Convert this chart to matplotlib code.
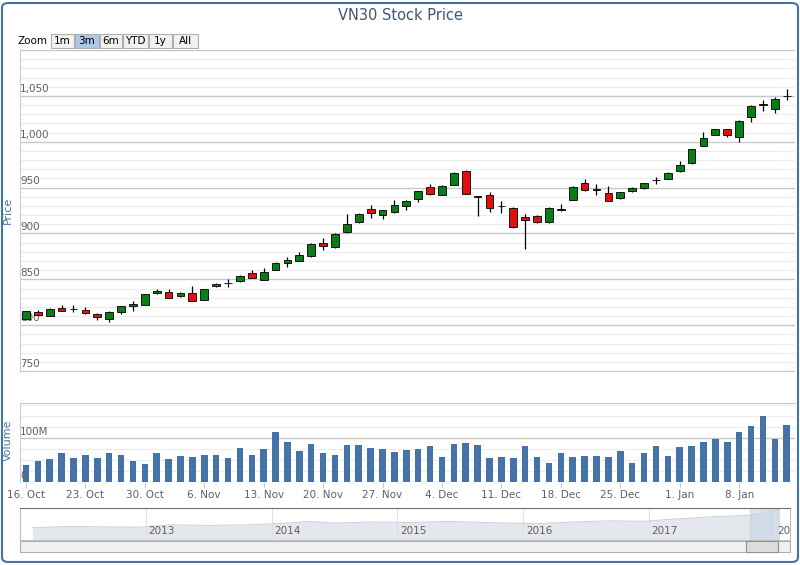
import matplotlib.pyplot as plt
import matplotlib.patches as mpatches
import numpy as np
import pandas as pd

# daily candles, 16 Oct 2017 - 12 Jan 2018
dates = pd.bdate_range('2017-10-16', '2018-01-12')
opens = [807, 814.6, 810, 819, 817.6, 816.5, 811.7, 807.3, 814.3, 820.5, 822.3, 835, 836, 831.5, 835, 827.8,
         842.5, 845.8, 848.4, 857, 849.8, 860.4, 867.8, 870.3, 875, 890, 885, 901.8, 912, 926.4, 920, 923,
         930.4, 937.7, 950.9, 942, 953, 967.7, 940.6, 941.4, 929.6, 928.2, 918.3, 919.4, 912, 926, 937,
         954.9, 947.6, 943.9, 938.8, 945.8, 949.8, 957.8, 959.7, 967.7, 976.5, 995.6, 1007.7, 1013.5,
         1005.5, 1027, 1040.3, 1035.5, 1049.4]
closes = [815, 811.4, 817.6, 815.7, 817.6, 813.2, 809, 814.3, 820.5, 822.7, 834, 837.4, 830, 835, 826.7, 839.6,
          844.7, 845.8, 853.8, 852, 857.9, 867.8, 870.7, 876.9, 889, 886.4, 898.9, 909.9, 921.6, 922, 925.3, 930.8,
          935.5, 945.8, 942.5, 951.6, 965.9, 943.2, 939.5, 928.2, 929.6, 907.3, 914.6, 912.1, 928.2, 926, 950.9,
          946.9, 947.6, 935.9, 945, 949.8, 954.9, 957.8, 965.9, 975, 991.9, 1004, 1013.5, 1007.3,
          1022.7, 1038.8, 1040.3, 1046.1, 1049.4]
highs = [816, 817, 818.5, 822, 822, 820, 813, 815, 821, 826, 834.5, 840, 839, 836, 843, 840,
         846, 850, 855, 860, 862, 868.5, 874, 880, 890, 895, 900, 921, 922.5, 931, 926, 937,
         936.5, 946.5, 954, 952.5, 967, 969, 941, 945, 935, 928.5, 921, 920, 929, 932, 951.5,
         959, 954, 952, 945.5, 950.5, 955.5, 962, 966.5, 979, 992.5, 1011, 1014, 1014,
         1023.5, 1040, 1046, 1049, 1057]
lows = [806, 810.5, 809.5, 815, 814, 812.5, 806, 803, 812, 815, 821.5, 834.5, 829.5, 830.5, 826, 827,
        841.5, 842, 847.5, 851, 849, 860, 863, 869.5, 874.5, 882, 884.5, 901, 911, 917, 916, 922.5,
        926, 934, 942, 941.5, 952.5, 942.5, 919, 923, 922, 906.5, 883, 911, 911.5, 924, 936.5,
        946, 942, 935, 938, 945, 949, 954, 959, 967, 976, 995, 1007, 1005,
        1000, 1021, 1033, 1031, 1045]
volume_m = [38, 48, 52, 65, 55, 61, 55, 65, 62, 48, 42, 67, 53, 59, 57, 61, 61, 55, 77, 61, 75, 113, 91, 71,
            87, 65, 62, 85, 85, 77, 75, 69, 73, 75, 81, 57, 87, 89, 85, 55, 57, 55, 83, 57, 43, 65, 57, 59,
            59, 57, 71, 43, 65, 81, 59, 79, 81, 91, 98, 91, 113, 127, 151, 99, 131]

# navigator overview (rough close per period, 2012-2018)
nav_years = [2012.1, 2012.4, 2012.7, 2012.95, 2013.2, 2013.5, 2013.8, 2014.2, 2014.3, 2014.5, 2014.8, 2015.1,
             2015.4, 2015.7, 2015.9, 2016.1, 2016.4, 2016.7, 2016.95, 2017.2, 2017.5, 2017.8, 2018.03]
nav_close = [420, 470, 450, 440, 520, 500, 520, 600, 640, 580, 620, 600,
             640, 600, 580, 560, 620, 660, 640, 720, 800, 850, 1050]
year_labels = ['2013', '2014', '2015', '2016', '2017', '2018']

W, H = 800, 565
fig = plt.figure(figsize=(8, 5.65), dpi=100)
plt.rcParams['font.family'] = ['DejaVu Sans']


def fx(px):
    return px / W


def fy(py):
    return 1 - py / H


grey = '#606060'
fig.text(0.5, fy(16), 'VN30 Stock Price', ha='center', va='center', fontsize=10.5, color='#3e576f')

# zoom buttons
fig.text(fx(18), fy(41), 'Zoom', ha='left', va='center', fontsize=7.5, color='black')
buttons = [('1m', 51, 74), ('3m', 75, 99), ('6m', 100, 122), ('YTD', 123, 148), ('1y', 149, 172), ('All', 173, 198)]
for label, x0, x1 in buttons:
    col = '#acc8e8' if label == '3m' else '#f2f2f2'
    fig.patches.append(mpatches.Rectangle((fx(x0), fy(48)), fx(x1 - x0), 14 / H, transform=fig.transFigure,
                                          facecolor=col, edgecolor='#b0b0b0', lw=0.8))
    fig.text(fx((x0 + x1) / 2), fy(41), label, ha='center', va='center', fontsize=7.5, color='black')

n = len(dates)
x = np.arange(n)
xl = (-0.5, n - 0.3)

# price pane
ax = fig.add_axes([fx(20), fy(372), fx(775), 322 / H])
ax.set_xlim(*xl)
ax.set_ylim(749, 1100)
for s in ax.spines.values():
    s.set_visible(False)
ax.spines['left'].set_visible(True)
ax.spines['left'].set_color('#c0d0e0')
ax.set_yticks(np.arange(750, 1101, 50))
ax.set_yticks(np.arange(750, 1101, 10), minor=True)
ax.grid(True, which='major', axis='y', color='#c8c8c8', lw=1)
ax.grid(True, which='minor', axis='y', color='#ececec', lw=0.8)
ax.tick_params(axis='both', which='both', length=0, labelleft=False, labelbottom=False)
ax.set_axisbelow(True)
for v in range(750, 1051, 50):
    ax.text(0.0, v + 2, f'{v:,}', transform=ax.get_yaxis_transform(), fontsize=7.5, color=grey,
            ha='left', va='bottom')
for i in range(n):
    o, c = opens[i], closes[i]
    col = '#0a7d18' if c >= o else '#e01010'
    ax.vlines(x[i], lows[i], highs[i], color='black', lw=0.9, zorder=2)
    ax.bar(x[i], max(abs(c - o), 0.6), bottom=min(o, c), width=0.65, color=col, edgecolor='black',
           lw=0.6, zorder=3)
fig.text(fx(8), fy(210), 'Price', rotation=90, ha='center', va='center', fontsize=8, color='#4d759e')

# volume pane
av = fig.add_axes([fx(20), fy(482), fx(775), 79 / H])
av.set_xlim(*xl)
av.set_ylim(0, 180)
for s in av.spines.values():
    s.set_visible(False)
av.spines['left'].set_visible(True)
av.spines['left'].set_color('#c0d0e0')
av.spines['top'].set_visible(True)
av.spines['top'].set_color('#c8c8c8')
av.set_yticks([0, 100])
av.set_yticks(np.arange(0, 180, 25), minor=True)
av.grid(True, which='major', axis='y', color='#c8c8c8', lw=1)
av.grid(True, which='minor', axis='y', color='#ececec', lw=0.8)
av.tick_params(axis='y', which='both', length=0, labelleft=False)
av.set_axisbelow(True)
av.bar(x, volume_m, width=0.55, color='#4572a7', zorder=3)
av.text(0.0, 102, '100M', transform=av.get_yaxis_transform(), fontsize=7.5, color=grey, ha='left', va='bottom')
av.text(0.0, 2, '0', transform=av.get_yaxis_transform(), fontsize=7.5, color=grey, ha='left', va='bottom')
mondays = [i for i, d in enumerate(dates) if d.weekday() == 0]
av.set_xticks(mondays)
av.set_xticklabels([dates[i].strftime('%-d. %b') for i in mondays], fontsize=7.5, color=grey)
av.tick_params(axis='x', length=4, color='#c0d0e0', pad=2)
fig.text(fx(8), fy(440), 'Volume', rotation=90, ha='center', va='center', fontsize=8, color='#4d759e')

# navigator
an = fig.add_axes([fx(20), fy(540), fx(770), 32 / H])
an.set_xlim(2012.0, 2018.12)
an.set_ylim(0, 1100)
an.fill_between(nav_years, nav_close, color='#e4e8ee', lw=0)
an.plot(nav_years, nav_close, color='#d0d4da', lw=0.8)
an.axvspan(2017.8, 2018.03, color='#c6d3e4', alpha=0.6)
an.set_yticks([])
an.set_xticks(range(2013, 2019))
an.set_xticklabels([])
an.grid(True, axis='x', color='#e0e0e0', lw=0.8)
an.tick_params(length=0)
for yr, lab in zip(range(2013, 2019), year_labels):
    an.text(yr + 0.02, 300, lab, fontsize=7.5, color=grey, ha='left', va='center', clip_on=True)
for s in an.spines.values():
    s.set_color('#c0c0c0')
an.spines['top'].set_color('#707070')

# scrollbar
fig.patches.append(mpatches.Rectangle((fx(20), fy(552)), fx(770), 11 / H, transform=fig.transFigure,
                                      facecolor='#f0f0f0', edgecolor='#b0b0b0', lw=0.8))
fig.patches.append(mpatches.Rectangle((fx(746), fy(552)), fx(32), 11 / H, transform=fig.transFigure,
                                      facecolor='#dcdcdc', edgecolor='#909090', lw=0.8))

# outer border
fig.patches.append(mpatches.FancyBboxPatch((fx(2), fy(562)), fx(796), 559 / H, transform=fig.transFigure,
                                           boxstyle='round,pad=0,rounding_size=0.008', fill=False,
                                           edgecolor='#4572a7', lw=1.5))

fig.savefig('out.png', dpi=100)
